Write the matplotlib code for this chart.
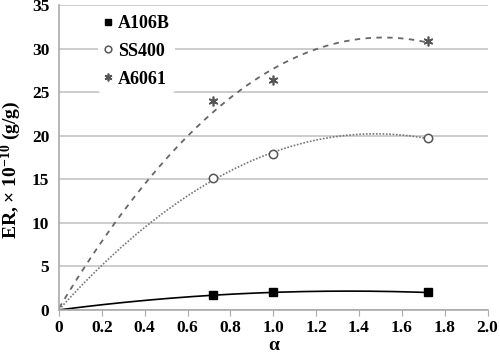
import matplotlib.pyplot as plt
import numpy as np

alpha = [0.72, 1.0, 1.72]
a106b = [1.7, 2.0, 2.0]
ss400 = [15.1, 17.9, 19.7]
a6061 = [24.0, 26.4, 30.9]

plt.rcParams['font.family'] = ['Liberation Serif', 'DejaVu Serif']
plt.rcParams['font.weight'] = 'bold'
plt.rcParams['mathtext.fontset'] = 'custom'
plt.rcParams['mathtext.rm'] = 'Liberation Serif:bold'
plt.rcParams['mathtext.default'] = 'rm'

fig = plt.figure(figsize=(5, 3.55), dpi=100)
ax = fig.add_axes([0.118, 0.127, 0.857, 0.859])


def trend(x, y):
    # quadratic trendline through the origin point, like the spreadsheet fit
    xs = np.concatenate([[0.0], x])
    ys = np.concatenate([[0.0], y])
    coef = np.polyfit(xs, ys, 2)
    xx = np.linspace(0, max(x), 200)
    return xx, np.polyval(coef, xx)


series = [
    ("A106B", a106b, dict(marker='s', mfc='black', mec='black', ms=6),
     dict(color='black', lw=1.2, ls='-')),
    ("SS400", ss400, dict(marker='o', mfc='white', mec='#555555', ms=6, mew=1.1),
     dict(color='#777777', lw=1.2, ls=(0, (1, 1)))),
    ("A6061", a6061, dict(marker=(6, 2, 0), mfc='none', mec='#555555', ms=7, mew=1.2),
     dict(color='#666666', lw=1.3, ls=(0, (3, 3)))),
]

for name, ys, mk, ln in series:
    xx, yy = trend(np.array(alpha), np.array(ys))
    ax.plot(xx, yy, **ln, zorder=2)
    ax.plot(alpha, ys, ls='none', label=name, zorder=3, **mk)

ax.set_xlim(0, 2.0)
ax.set_ylim(0, 35)
ax.set_xticks(np.arange(0, 2.01, 0.2))
ax.set_xticklabels(['0'] + ['%.1f' % v for v in np.arange(0.2, 2.01, 0.2)])
ax.set_yticks(range(0, 36, 5))
ax.grid(axis='y', color='#c8c8c8', lw=1.3)
ax.set_axisbelow(True)
for s in ['top', 'right']:
    ax.spines[s].set_visible(False)
for s in ['left', 'bottom']:
    ax.spines[s].set_color('#aaaaaa')
    ax.spines[s].set_linewidth(1.2)
ax.tick_params(axis='y', length=0, labelsize=12.5, pad=7)
ax.tick_params(axis='x', length=4, color='#aaaaaa', labelsize=12.5, pad=3)

ax.set_xlabel('α', fontsize=14, fontweight='bold', labelpad=1)
ax.set_ylabel('ER, × 10$^{-10}$ (g/g)', fontsize=14, fontweight='bold')
ax.yaxis.set_label_coords(-0.083, 0.46)

ax.legend(loc='upper left', bbox_to_anchor=(0.07, 1.015), frameon=True, framealpha=1,
          edgecolor='none', fontsize=13, labelspacing=0.6, handlelength=0.5,
          handletextpad=0.3, borderpad=0.3, markerscale=0.8)

fig.savefig('out.png')
